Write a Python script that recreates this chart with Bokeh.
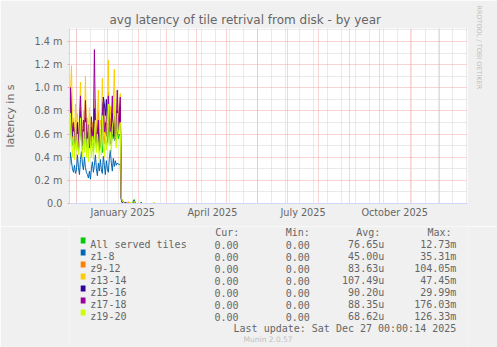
import pandas as pd
from bokeh.plotting import figure
from bokeh.layouts import column
from bokeh.models import (Range1d, FixedTicker, Title, CustomJSTickFormatter,
                          ColumnDataSource)
from bokeh.core.properties import value
from bokeh.embed import file_html
from bokeh.resources import INLINE

# ---------------- data ----------------
title_text = "avg latency of tile retrival from disk - by year"
y_label = "latency in s"
series_names = ["All served tiles", "z1-8", "z9-12", "z13-14", "z15-16", "z17-18", "z19-20"]
series_colors = ["#00CC00", "#0066B3", "#FF8000", "#FFCC00", "#330099", "#990099", "#CCFF00"]
cur_vals = ["0.00", "0.00", "0.00", "0.00", "0.00", "0.00", "0.00"]
min_vals = ["0.00", "0.00", "0.00", "0.00", "0.00", "0.00", "0.00"]
avg_vals = ["76.65u", "45.00u", "83.63u", "107.49u", "90.20u", "88.35u", "68.62u"]
max_vals = ["12.73m", "35.31m", "104.05m", "47.45m", "29.99m", "176.03m", "126.33m"]
col_headers = ["Cur:", "Min:", "Avg:", "Max:"]
last_update = "Last update: Sat Dec 27 00:00:14 2025"
munin_ver = "Munin 2.0.57"
rrd_credit = "RRDTOOL / TOBI OETIKER"

y_ticks = [0.0, 0.2, 0.4, 0.6, 0.8, 1.0, 1.2, 1.4]
y_minor = [0.1, 0.3, 0.5, 0.7, 0.9, 1.1, 1.3, 1.5]
y_tick_labels = ["0.0", "0.2 m", "0.4 m", "0.6 m", "0.8 m", "1.0 m", "1.2 m", "1.4 m"]
x_tick_dates = ["2025-01-16", "2025-04-16", "2025-07-16", "2025-10-16"]
x_tick_labels = ["January 2025", "April 2025", "July 2025", "October 2025"]

# daily averages (ms) from 2024-11-24 through 2025-01-14
active_start = "2024-11-24"
all_served = [0.52, 0.68, 0.60, 0.50, 0.56, 0.46, 0.58, 0.48, 0.55, 0.44, 0.52, 0.66, 0.54,
              0.46, 0.58, 0.50, 0.64, 0.48, 0.52, 0.46, 0.54, 0.48, 0.50, 0.56, 0.44, 0.60,
              0.62, 0.48, 0.54, 0.60, 0.45, 0.52, 0.47, 0.44, 0.58, 0.52, 0.56, 0.50, 0.54,
              0.66, 0.52, 0.58, 0.50, 0.60, 0.56, 0.65, 0.54, 0.58, 0.62, 0.56, 0.60, 0.58]
z1_8 = [0.30, 0.44, 0.36, 0.30, 0.27, 0.33, 0.26, 0.29, 0.42, 0.31, 0.25, 0.38, 0.45,
        0.34, 0.29, 0.40, 0.31, 0.27, 0.25, 0.22, 0.28, 0.21, 0.30, 0.36, 0.27, 0.33,
        0.42, 0.30, 0.24, 0.35, 0.28, 0.38, 0.29, 0.26, 0.41, 0.33, 0.25, 0.37, 0.30,
        0.27, 0.39, 0.46, 0.35, 0.28, 0.39, 0.32, 0.37, 0.33, 0.35, 0.34, 0.34, 0.33]
z9_12 = [0.60, 0.88, 0.74, 0.56, 0.66, 0.50, 0.72, 0.58, 0.64, 0.52, 0.62, 0.84, 0.60,
         0.52, 0.70, 0.58, 0.86, 0.56, 0.62, 0.50, 0.66, 0.58, 0.52, 0.64, 0.48, 0.70,
         0.78, 0.56, 0.66, 0.80, 0.54, 0.64, 0.58, 0.86, 0.66, 0.52, 0.72, 0.58, 0.68,
         0.96, 0.62, 0.74, 0.56, 0.70, 0.76, 0.90, 0.66, 0.60, 0.82, 0.64, 0.72, 0.86]
z13_14 = [0.70, 0.95, 1.19, 0.62, 0.74, 0.55, 0.86, 0.60, 0.78, 0.55, 0.72, 1.05, 0.68,
          0.58, 0.80, 0.64, 1.10, 0.62, 0.74, 0.55, 0.80, 0.66, 0.58, 0.70, 0.52, 0.76,
          0.90, 0.62, 0.74, 0.98, 0.60, 0.72, 0.66, 1.08, 0.70, 0.58, 0.82, 0.64, 0.76,
          1.24, 0.70, 0.84, 0.62, 0.78, 0.88, 1.16, 0.74, 0.66, 0.98, 0.72, 0.80, 0.95]
z15_16 = [0.62, 1.00, 0.70, 0.58, 0.66, 0.52, 0.62, 0.56, 0.70, 0.48, 0.60, 0.80, 0.58,
          0.50, 0.64, 0.56, 0.74, 0.58, 0.50, 0.62, 0.48, 0.56, 0.66, 0.54, 0.60, 0.82,
          0.62, 0.52, 0.58, 0.66, 0.46, 0.56, 0.50, 0.70, 0.92, 0.86, 0.76, 0.90, 0.68,
          0.82, 0.60, 0.52, 0.66, 0.78, 0.58, 0.70, 0.54, 0.64, 0.80, 0.60, 0.70, 0.84]
z17_18 = [0.66, 1.00, 0.72, 0.62, 0.70, 0.58, 0.66, 0.54, 0.62, 0.50, 0.70, 0.93, 0.64,
          0.55, 0.72, 0.60, 0.89, 0.62, 0.56, 0.68, 0.52, 0.60, 0.75, 0.58, 0.64, 1.33,
          0.70, 0.56, 0.62, 0.72, 0.50, 0.60, 0.54, 0.78, 0.88, 0.62, 0.70, 0.58, 0.74,
          0.93, 0.66, 0.55, 0.72, 0.93, 0.64, 0.76, 0.58, 0.70, 0.98, 0.66, 0.78, 0.92]
z19_20 = [0.48, 0.78, 0.56, 0.40, 0.62, 0.38, 0.70, 0.46, 0.60, 0.42, 0.54, 0.74, 0.50,
          0.40, 0.62, 0.44, 0.70, 0.40, 0.56, 0.36, 0.83, 0.48, 0.40, 0.58, 0.38, 0.56,
          0.72, 0.44, 0.60, 0.50, 0.36, 0.64, 0.42, 0.76, 0.52, 0.40, 0.60, 0.46, 0.68,
          0.86, 0.50, 0.62, 0.44, 0.66, 0.72, 0.90, 0.56, 0.48, 0.78, 0.60, 0.64, 0.70]

# after the drop: sparse days (ms)
tail_dates = ["2025-01-15", "2025-01-16", "2025-01-17", "2025-01-19", "2025-01-21",
              "2025-01-22", "2025-01-23", "2025-01-26", "2025-01-27", "2025-01-28",
              "2025-01-29", "2025-02-03", "2025-02-04", "2025-02-05", "2025-02-15",
              "2025-02-16", "2025-02-17", "2025-02-18", "2025-12-28"]
tail_all = [0.05, 0.02, 0.02, 0.00, 0.00, 0.01, 0.00, 0.00, 0.02, 0.035, 0.00, 0.00, 0.01, 0.00, 0.00, 0.00, 0.00, 0.00, 0.00]
tail_z1 = [0.03, 0.01, 0.00, 0.00, 0.00, 0.00, 0.00, 0.00, 0.01, 0.03, 0.00, 0.00, 0.01, 0.00, 0.00, 0.00, 0.00, 0.00, 0.00]
tail_z9 = [0.04, 0.01, 0.00, 0.00, 0.00, 0.015, 0.00, 0.00, 0.00, 0.02, 0.00, 0.00, 0.00, 0.00, 0.00, 0.00, 0.00, 0.00, 0.00]
tail_z13 = [0.05, 0.01, 0.00, 0.00, 0.00, 0.00, 0.01, 0.00, 0.00, 0.01, 0.00, 0.00, 0.00, 0.00, 0.00, 0.00, 0.012, 0.00, 0.00]
tail_z15 = [0.04, 0.01, 0.00, 0.01, 0.00, 0.00, 0.00, 0.00, 0.00, 0.02, 0.00, 0.00, 0.00, 0.00, 0.00, 0.00, 0.00, 0.00, 0.00]
tail_z17 = [0.05, 0.01, 0.00, 0.00, 0.00, 0.00, 0.00, 0.00, 0.00, 0.015, 0.00, 0.00, 0.00, 0.00, 0.00, 0.00, 0.00, 0.00, 0.00]
tail_z19 = [0.06, 0.02, 0.01, 0.00, 0.00, 0.00, 0.00, 0.00, 0.01, 0.02, 0.00, 0.00, 0.00, 0.00, 0.00, 0.00, 0.00, 0.00, 0.00]

active_series = [all_served, z1_8, z9_12, z13_14, z15_16, z17_18, z19_20]
tail_series = [tail_all, tail_z1, tail_z9, tail_z13, tail_z15, tail_z17, tail_z19]

# ---------------- helpers ----------------
def ms(s):
    return pd.Timestamp(s).value // 10**6

W = 497
MAIN_H = 226
LEG_H = 347 - MAIN_H
FL, FR, FT, FB = 67, 467, 28, 203   # frame box in canvas pixels
FONT = "DejaVu Sans"
MONO = "DejaVu Sans Mono"
TXT = "#666666"
AXIS = "#CFD6F8"
BG = "#F0F0F0"
MGRID = "#F0A8A8"
GRID = "#D4D4D4"

p = figure(width=W, height=MAIN_H, x_axis_type="datetime", output_backend="svg",
           toolbar_location=None,
           min_border_left=FL, min_border_right=W - FR,
           min_border_top=FT, min_border_bottom=MAIN_H - FB)
p.x_range = Range1d(ms("2024-11-24"), ms("2025-12-28 16:00"))
p.y_range = Range1d(0, 1.512)
p.background_fill_color = "#FFFFFF"
p.border_fill_color = BG
p.outline_line_color = None

# title (above) and credit (right)
p.title.text = title_text
p.title.align = "left"
p.title.offset = 40
p.title.text_font = FONT
p.title.text_font_size = "12px"
p.title.text_font_style = "normal"
p.title.text_color = TXT
p.title.standoff = 4
p.add_layout(Title(text=rrd_credit, align="left", offset=-23, text_font=FONT,
                   text_font_size="6.5px", text_font_style="normal",
                   text_color="#BEBEBE", standoff=14), "right")

# grids
month_starts = [ms(d) for d in pd.date_range("2024-12-01", "2025-12-01", freq="MS")]
biweekly = [ms(d) for d in pd.date_range("2024-11-17", "2025-12-28", freq="14D")]
p.xgrid.ticker = FixedTicker(ticks=month_starts, minor_ticks=biweekly)
p.ygrid.ticker = FixedTicker(ticks=y_ticks, minor_ticks=y_minor)
for g in (p.xgrid, p.ygrid):
    g.grid_line_color = MGRID
    g.grid_line_dash = "1 1"
    g.grid_line_width = 1
    g.minor_grid_line_color = GRID
    g.minor_grid_line_dash = "1 1"
    g.minor_grid_line_width = 1

# axes
p.xaxis.ticker = FixedTicker(ticks=[ms(d + " 12:00") for d in x_tick_dates])
p.xaxis.formatter = CustomJSTickFormatter(args=dict(labels=x_tick_labels),
                                          code="return labels[index]")
p.yaxis.ticker = FixedTicker(ticks=y_ticks, minor_ticks=y_minor)
p.yaxis.formatter = CustomJSTickFormatter(args=dict(labels=y_tick_labels),
                                          code="return labels[index]")
for ax in (p.xaxis, p.yaxis):
    ax.axis_line_color = AXIS
    ax.major_label_text_font = FONT
    ax.major_label_text_color = TXT
    ax.major_label_text_font_size = "9.7px"
p.xaxis.major_tick_in = 0
p.xaxis.major_tick_out = 0
p.xaxis.minor_tick_in = 0
p.xaxis.minor_tick_out = 0
p.xaxis.major_label_standoff = 3
p.yaxis.major_tick_in = 0
p.yaxis.major_tick_out = 2
p.yaxis.minor_tick_in = 0
p.yaxis.minor_tick_out = 1
p.yaxis.major_tick_line_color = MGRID
p.yaxis.minor_tick_line_color = GRID
p.yaxis.major_label_standoff = 5
p.yaxis.axis_label = y_label
p.yaxis.axis_label_text_font = FONT
p.yaxis.axis_label_text_font_size = "11px"
p.yaxis.axis_label_text_font_style = "normal"
p.yaxis.axis_label_text_color = TXT
p.yaxis.axis_label_standoff = 15

# lines
active_dates = pd.date_range(active_start, periods=len(all_served), freq="D")
for vals, tail, col in zip(active_series, tail_series, series_colors):
    xs = list(active_dates) + [pd.Timestamp(d) for d in tail_dates]
    ys = list(vals) + list(tail)
    src = ColumnDataSource(dict(x=xs, y=ys))
    p.line("x", "y", source=src, color=col, line_width=1)

# ---------------- legend block (canvas pixel coordinates) ----------------
q = figure(width=W, height=LEG_H, output_backend="svg", toolbar_location=None,
           x_axis_location=None, y_axis_location=None,
           min_border=0, min_border_left=0, min_border_right=0,
           min_border_top=0, min_border_bottom=0)
q.x_range = Range1d(0, W)
q.y_range = Range1d(347, MAIN_H)
q.background_fill_color = BG
q.border_fill_color = BG
q.outline_line_color = None
q.xgrid.visible = False
q.ygrid.visible = False

rows = list(range(len(series_names)))
base_y = [244 + 12 * i for i in rows]
q.quad(left=[14] * len(rows), right=[20] * len(rows),
       top=[b - 7 for b in base_y], bottom=[b - 1 for b in base_y],
       fill_color=series_colors, line_color=None)
mono = dict(text_font=value(MONO), text_font_size="10px", text_color=TXT,
            text_baseline="alphabetic")
q.text(x=[182, 270, 358, 447], y=[232] * 4, text=col_headers, text_align="left", **mono)
q.text(x=[26] * len(rows), y=base_y, text=series_names, text_align="left", **mono)
q.text(x=[211] * len(rows), y=base_y, text=cur_vals, text_align="right", **mono)
q.text(x=[300] * len(rows), y=base_y, text=min_vals, text_align="right", **mono)
q.text(x=[393] * len(rows), y=base_y, text=avg_vals, text_align="right", **mono)
q.text(x=[483] * len(rows), y=base_y, text=max_vals, text_align="right", **mono)
q.text(x=[483], y=[328], text=[last_update], text_align="right", **mono)
q.text(x=[248], y=[339], text=[munin_ver], text_align="center",
       text_font=value(FONT), text_font_size="7.5px", text_color="#C0C0C0",
       text_baseline="alphabetic")

layout = column(p, q, spacing=0)
open("out.html", "w").write(file_html(layout, INLINE))
